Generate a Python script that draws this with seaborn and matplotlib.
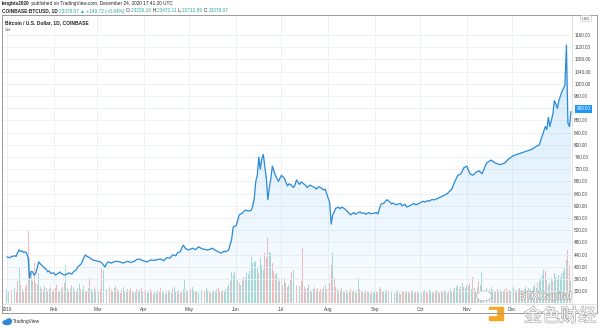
import numpy as np
import pandas as pd
import matplotlib
matplotlib.use("Agg")
import matplotlib.pyplot as plt
import matplotlib.dates as mdates
import matplotlib.patheffects as pe
from matplotlib.colors import to_rgb
from matplotlib.transforms import IdentityTransform
from matplotlib.patches import Rectangle, Ellipse
from matplotlib.lines import Line2D
import seaborn as sns

# ---------------- data ----------------
start_date = "2016-01-01"
price_day = [
    0, 2, 3, 5, 6, 7, 8, 9, 10, 11,
    12, 13, 14, 15, 16, 17, 18, 19, 20, 21,
    22, 23, 24, 25, 26, 27, 28, 29, 31, 32,
    34, 35, 36, 38, 40, 41, 43, 44, 46, 47,
    49, 50, 51, 52, 53, 54, 56, 57, 59, 60,
    62, 63, 65, 66, 67, 69, 70, 72, 75, 77,
    80, 82, 85, 86, 88, 90, 93, 95, 98, 100,
    102, 104, 106, 108, 110, 112, 113, 115, 116, 117,
    118, 120, 122, 123, 125, 127, 129, 130, 133, 135,
    136, 138, 139, 141, 142, 144, 145, 147, 149, 150,
    152, 154, 156, 158, 160, 162, 163, 164, 165, 166,
    167, 168, 169, 170, 171, 172, 173, 174, 175, 176,
    178, 180, 182, 184, 186, 187, 188, 190, 191, 192,
    194, 195, 196, 198, 199, 201, 202, 204, 205, 207,
    208, 210, 211, 213, 214, 215, 216, 217, 218, 220,
    221, 222, 224, 225, 226, 228, 229, 230, 231, 232,
    234, 235, 237, 238, 240, 241, 243, 245, 246, 247,
    248, 250, 252, 254, 255, 256, 258, 259, 261, 262,
    264, 265, 267, 268, 270, 271, 273, 274, 276, 277,
    279, 280, 282, 283, 286, 289, 292, 295, 297, 299,
    301, 303, 305, 307, 309, 311, 313, 315, 318, 321,
    324, 327, 330, 333, 336, 339, 342, 345, 348, 351,
    353, 355, 357, 358, 359, 360, 361, 362, 363, 364,
    365, 366, 367, 368, 369, 370, 371, 372, 373, 374,
]
price_close = [
    432, 430, 433, 436, 434, 445, 455, 450, 452, 447,
    449, 445, 430, 362, 385, 383, 372, 378, 395, 416,
    410, 405, 400, 396, 392, 383, 386, 378, 380, 373,
    378, 383, 378, 373, 376, 380, 376, 383, 390, 400,
    408, 418, 430, 439, 434, 432, 426, 422, 420, 418,
    416, 412, 399, 410, 416, 412, 414, 418, 416, 412,
    418, 414, 419, 424, 425, 420, 416, 422, 421, 424,
    425, 420, 430, 428, 439, 436, 445, 450, 462, 471,
    462, 455, 458, 461, 456, 465, 460, 458, 455, 458,
    461, 455, 452, 447, 445, 451, 449, 455, 490, 530,
    535, 570, 576, 586, 583, 585, 600, 625, 680, 700,
    760, 720, 755, 768, 730, 690, 620, 660, 690, 730,
    700, 680, 700, 690, 665, 672, 670, 660, 668, 685,
    670, 678, 675, 667, 660, 668, 665, 660, 655, 663,
    660, 652, 655, 625, 610, 540, 570, 580, 592, 595,
    590, 596, 590, 585, 580, 570, 574, 578, 572, 575,
    580, 576, 576, 572, 578, 574, 575, 578, 573, 590,
    605, 609, 620, 612, 606, 609, 603, 605, 608, 600,
    605, 596, 600, 603, 608, 603, 607, 610, 615, 612,
    617, 615, 621, 619, 625, 632, 640, 655, 680, 700,
    705, 725, 730, 705, 700, 710, 715, 705, 740, 750,
    740, 735, 740, 755, 765, 770, 775, 780, 785, 795,
    800, 830, 860, 850, 890, 860, 880, 900, 945, 935,
    920, 945, 960, 975, 985, 995, 1127, 870, 860, 909,
]

# daily volume (arbitrary units), Jan 1 2016 ... Jan 9 2017
volume = [
    # Jan
    14, 12, 10, 13, 16, 15, 12, 22, 35, 18, 14, 12, 16, 18, 72, 45, 30, 22, 40, 20,
    18, 30, 16, 14, 13, 17, 15, 12, 14, 16, 12,
    # Feb
    13, 15, 18, 12, 11, 14, 16, 20, 38, 15, 12, 14, 18, 16, 13, 12, 15, 19, 14, 13,
    17, 12, 11, 15, 25, 14, 12, 16, 13,
    # Mar
    15, 12, 14, 35, 33, 18, 14, 12, 16, 13, 11, 15, 17, 14, 12, 10, 13, 16, 12, 11,
    14, 13, 15, 12, 10, 11, 14, 12, 13, 15, 12,
    # Apr
    11, 13, 10, 12, 14, 11, 9, 12, 10, 13, 11, 15, 12, 10, 9, 11, 13, 12, 10, 14,
    16, 12, 11, 13, 10, 12, 14, 24, 13, 12,
    # May
    12, 14, 16, 13, 11, 12, 10, 14, 13, 11, 12, 15, 13, 12, 10, 11, 13, 12, 14, 15,
    12, 11, 13, 12, 14, 16, 18, 22, 31, 28, 31,
    # Jun
    27, 24, 20, 18, 22, 26, 25, 30, 28, 32, 46, 40, 42, 41, 35, 30, 45, 38, 33, 50,
    45, 65, 51, 50, 40, 32, 28, 30, 25, 22,
    # Jul
    22, 18, 25, 20, 16, 18, 24, 31, 33, 20, 18, 15, 17, 22, 55, 16, 14, 15, 18, 13,
    12, 14, 16, 13, 15, 12, 14, 13, 16, 18, 14,
    # Aug
    14, 20, 38, 51, 25, 16, 14, 12, 13, 15, 12, 11, 13, 10, 12, 14, 11, 13, 12, 10,
    25, 14, 12, 11, 10, 13, 12, 11, 9, 12, 10,
    # Sep
    11, 12, 10, 14, 16, 12, 11, 10, 13, 12, 9, 11, 12, 10, 11, 13, 10, 9, 12, 11,
    10, 12, 11, 10, 13, 12, 10, 11, 12, 10,
    # Oct
    11, 10, 12, 13, 11, 10, 14, 12, 11, 10, 12, 13, 11, 10, 12, 11, 13, 12, 10, 11,
    14, 12, 13, 15, 16, 18, 14, 17, 20, 16, 15,
    # Nov
    18, 17, 20, 14, 26, 15, 12, 16, 22, 18, 31, 12, 13, 15, 12, 14, 16, 13, 12, 11,
    14, 12, 13, 12, 11, 14, 15, 12, 13, 12,
    # Dec
    14, 16, 13, 12, 14, 15, 13, 12, 14, 16, 13, 15, 14, 12, 16, 18, 15, 20, 22, 25,
    28, 33, 32, 24, 18, 20, 25, 22, 30, 26, 24,
    # Jan 2017
    28, 25, 30, 32, 35, 43, 53, 38, 22,
]
# u = up day (teal), d = down day (red)
direction = (
    "uuddu" "uddud" "udddd" "uuddu" "duudd" "uduud" "d"      # Jan
    "uddud" "udduu" "dudud" "duudu" "uddud" "uudu"           # Feb
    "uuddu" "duudd" "ududu" "dduud" "uddud" "uduud" "u"      # Mar
    "uduud" "duudu" "dduud" "uduud" "uudud" "duudu"          # Apr
    "uduud" "uudud" "duudu" "uduud" "duduu" "uuduu" "u"      # May
    "uuduu" "duuuu" "uuuuu" "duuud" "dduud" "ddudu"          # Jun
    "uddud" "uudud" "duudd" "dudud" "uudud" "ddudu" "d"      # Jul
    "uddud" "dudud" "uduud" "dudud" "uddud" "uduud" "u"      # Aug
    "uddud" "uduud" "dudud" "uudud" "duudd" "ududu"          # Sep
    "uudud" "duudu" "dudud" "uudud" "uuduu" "uduud" "u"      # Oct
    "uudud" "duudu" "uudud" "duuud" "duudu" "ddudu"          # Nov
    "uudud" "uuduu" "duudu" "uuduu" "uudud" "uuduu" "u"      # Dec
    "uuuuuuddu"                                              # Jan 2017
)
month_labels = ["2016", "Feb", "Mar", "Apr", "May", "Jun", "Jul", "Aug",
                "Sep", "Oct", "Nov", "Dec"]
price_ticks = [320, 360, 400, 440, 480, 520, 560, 600, 640, 680, 720, 760, 800,
               840, 880, 920, 960, 1000, 1040, 1080, 1120, 1160]
last_price_label = "909.00"

# ---------------- styling ----------------
sns.set_theme(style="white")
plt.rcParams["font.family"] = ["Liberation Sans", "DejaVu Sans"]

W, H = 600, 328
fig = plt.figure(figsize=(W / 100, H / 100), dpi=100)
fig.patch.set_facecolor("white")

def fx(px):
    return px / W

def fy(py):
    return 1 - py / H

base = pd.Timestamp(start_date)
df = pd.DataFrame({
    "date": base + pd.to_timedelta(price_day, unit="D"),
    "close": price_close,
})
n = min(len(volume), len(direction))
vdf = pd.DataFrame({
    "date": base + pd.to_timedelta(np.arange(n), unit="D"),
    "volume": volume[:n],
    "dir": list(direction[:n]),
})

left, right, top, bottom = 2, 572, 15, 303
ax = fig.add_axes([fx(left), fy(bottom), fx(right - left), (bottom - top) / H])
axv = ax.twinx()
ax.set_zorder(axv.get_zorder() + 1)
ax.patch.set_visible(False)
axv.patch.set_facecolor("white")

xmin = base + pd.Timedelta(days=-3.3)
xmax = base + pd.Timedelta(days=374.7)
ymin, ymax = 281, 1226

# volume bars
up_c, dn_c = "#26a69a", "#ef5350"
colors = [up_c if d == "u" else dn_c for d in vdf["dir"]]
axv.bar(vdf["date"], vdf["volume"], width=0.65, color=colors, alpha=0.4, linewidth=0)
axv.set_ylim(0, bottom - top)
axv.set_yticks([])
for s in axv.spines.values():
    s.set_visible(False)

# grid
grid_c = "#edf0f4"
for v in price_ticks:
    ax.axhline(v, color=grid_c, lw=0.6, zorder=0)
month_starts = pd.date_range("2016-01-01", periods=12, freq="MS")
for d in month_starts:
    ax.axvline(d, color=grid_c, lw=0.6, zorder=0)

# price line + gradient area
line_c = "#2a8ad6"
poly = ax.fill_between(df["date"], df["close"], ymin, color="none", lw=0)
grad = np.zeros((256, 1, 4))
grad[..., :3] = to_rgb("#2196f3")
grad[..., 3] = np.linspace(0.22, 0.02, 256)[:, None]
im = ax.imshow(grad, aspect="auto", origin="upper",
               extent=[mdates.date2num(xmin), mdates.date2num(xmax), ymin, ymax], zorder=1)
im.set_clip_path(poly.get_paths()[0], transform=ax.transData)
sns.lineplot(data=df, x="date", y="close", ax=ax, color=line_c, lw=0.9, zorder=3)

ax.set_xlim(xmin, xmax)
axv.set_xlim(xmin, xmax)
ax.set_ylim(ymin, ymax)
ax.set_xlabel("")
ax.set_ylabel("")
for s in ax.spines.values():
    s.set_visible(False)

ax.set_xticks(month_starts)
ax.set_xticklabels(month_labels)
ax.tick_params(axis="x", length=0, pad=3.2, labelsize=3.4, labelcolor="#444444")
ax.yaxis.tick_right()
ax.set_yticks(price_ticks)
# the 920 label sits under the last-price box, as in the reference
ax.set_yticklabels(["" if v == 920 else f"{v:.2f}" for v in price_ticks])
ax.tick_params(axis="y", length=0, pad=1.6, labelsize=3.3, labelcolor="#444444")

# frame lines
frame_c = "#9a9a9a"
fig.add_artist(Line2D([fx(2), fx(597)], [fy(15), fy(15)], color=frame_c, lw=0.7))
fig.add_artist(Line2D([fx(2), fx(597)], [fy(313), fy(313)], color=frame_c, lw=0.7))
fig.add_artist(Line2D([fx(2), fx(2)], [fy(15), fy(313)], color=frame_c, lw=0.7))
fig.add_artist(Line2D([fx(597), fx(597)], [fy(15), fy(313)], color=frame_c, lw=0.7))
fig.add_artist(Line2D([fx(572), fx(572)], [fy(15), fy(313)], color="#d8d8d8", lw=0.5))
fig.add_artist(Line2D([fx(2), fx(597)], [fy(303.5), fy(303.5)], color="#d8d8d8", lw=0.5))

# last price box
fig.text(fx(583.5), fy(109), last_price_label, fontsize=3.3, color="white",
         ha="center", va="center", zorder=10,
         bbox=dict(boxstyle="square,pad=0.35", fc="#2196f3", ec="none"))
fig.text(fx(586), fy(18.5), "USD", fontsize=2.9, color="#555555", ha="center", va="center",
         bbox=dict(boxstyle="round,pad=0.3", fc="white", ec="#bbbbbb", lw=0.4))

# header texts (chained pieces)
renderer = fig.canvas.get_renderer()

def chain(x, y, parts, size):
    for s, color, weight in parts:
        t = fig.text(x, H - y, s, color=color, fontsize=size, fontweight=weight,
                     ha="left", va="center", transform=IdentityTransform())
        bb = t.get_window_extent(renderer)
        x = bb.x1

dark = "#222222"
teal = "#26a69a"
chain(2, 4, [("lengbts2020", dark, "bold"),
             (" published on TradingView.com, December 24, 2020 17:41:20 UTC", dark, "normal")], 3.4)
chain(2, 11, [("COINBASE:BTCUSD, 1D ", dark, "bold"),
              ("23378.07 \u25b2 +149.72 (+0.64%) ", teal, "normal"),
              ("O:", dark, "normal"), ("23226.18 ", teal, "normal"),
              ("H:", dark, "normal"), ("23472.11 ", teal, "normal"),
              ("L:", dark, "normal"), ("22712.89 ", teal, "normal"),
              ("C:", dark, "normal"), ("23378.07", teal, "normal")], 3.4)
fig.text(fx(5), fy(23), "Bitcoin / U.S. Dollar, 1D, COINBASE", fontsize=3.5,
         fontweight="bold", color=dark, ha="left", va="center")
fig.text(fx(5), fy(30), "Vol", fontsize=3.2, color="#555555", ha="left", va="center")

# TradingView logo
fig.add_artist(Ellipse((fx(7), fy(322.5)), fx(8), 4 / H, color="#2a8ad6"))
fig.add_artist(Ellipse((fx(9), fy(321)), fx(5), 4 / H, color="#2a8ad6"))
fig.text(fx(13), fy(322), "TradingView", fontsize=3.5, color="#333333", ha="left", va="center")

# watermark (kept clear of the "Dec" tick label)
hollow = [pe.Stroke(linewidth=0.9, foreground="#a8a8a8"), pe.Normal()]
fig.add_artist(Ellipse((fx(484), fy(296)), fx(15), 10 / H, fc="white", ec="#bbbbbb", lw=0.6))
fig.add_artist(Rectangle((fx(489), fy(320)), fx(14), 13 / H, color="#f5a623"))
fig.add_artist(Rectangle((fx(489), fy(315)), fx(7), 5 / H, color="white"))
fig.text(fx(545), fy(296), "BTXCapital", fontsize=7.5, color="white", ha="center", va="center",
         path_effects=hollow)
fig.text(fx(560), fy(316.5), "金色财经", fontsize=13, color="white", ha="center", va="center",
         family=["Noto Sans CJK SC", "DejaVu Sans"], path_effects=hollow)

fig.savefig("out.png", dpi=100, facecolor="white")
